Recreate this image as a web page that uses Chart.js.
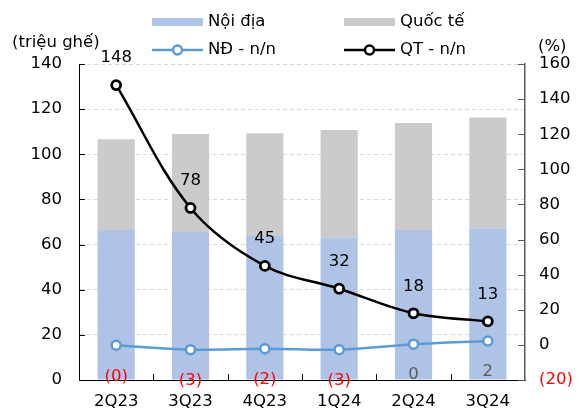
<!DOCTYPE html>
<html>
<head>
<meta charset="utf-8">
<script src="https://cdn.jsdelivr.net/npm/chart.js@4.4.1/dist/chart.umd.min.js"></script>
<style>
html,body{margin:0;padding:0;background:#fff;}
#wrap{position:relative;width:585px;height:419px;}
</style>
</head>
<body>
<div id="wrap"><canvas id="c" width="585" height="419"></canvas></div>
<script>
const categories = ['2Q23','3Q23','4Q23','1Q24','2Q24','3Q24'];
const domestic = [66.5, 65.6, 63.8, 63.1, 66.5, 67.1];
const international = [40.2, 43.4, 45.5, 47.7, 47.4, 49.2];
const ndYoY = [-0.2, -2.7, -2.2, -2.7, 0.4, 2.2];
const qtYoY = [148, 78, 45, 32, 18, 13.4];
const ndLabels = ['(0)','(3)','(2)','(3)','0','2'];
const qtLabels = ['148','78','45','32','18','13'];
const leftTicks = [0,20,40,60,80,100,120,140];
const rightTicks = [-20,0,20,40,60,80,100,120,140,160];

const FONT = '"DejaVu Sans", Verdana, sans-serif';
const FSIZE = 16.5;
const BLUE_BAR = '#AEC3E6';
const GRAY_BAR = '#CBCBCB';
const ND_COLOR = '#5B9BD5';

const decor = {
  id: 'decor',
  afterDatasetsDraw(chart) {
    const ctx = chart.ctx;
    const x = chart.scales.x, y = chart.scales.y, y1 = chart.scales.y1;
    const area = chart.chartArea;
    ctx.save();
    // inside tick marks
    ctx.lineWidth = 1;
    ctx.strokeStyle = '#000';
    leftTicks.forEach(v => {
      const py = Math.round(y.getPixelForValue(v)) + 0.5;
      ctx.beginPath(); ctx.moveTo(area.left, py); ctx.lineTo(area.left + 6, py); ctx.stroke();
    });
    ctx.strokeStyle = '#595959';
    rightTicks.forEach(v => {
      const py = Math.round(y1.getPixelForValue(v)) + 0.5;
      ctx.beginPath(); ctx.moveTo(area.right - 7, py); ctx.lineTo(area.right, py); ctx.stroke();
    });
    ctx.strokeStyle = '#000';
    for (let i = 1; i < categories.length; i++) {
      const px = Math.round((x.getPixelForValue(i - 1) + x.getPixelForValue(i)) / 2) + 0.5;
      ctx.beginPath(); ctx.moveTo(px, area.bottom); ctx.lineTo(px, area.bottom - 6); ctx.stroke();
    }
    // data labels
    ctx.font = FSIZE + 'px ' + FONT;
    ctx.textAlign = 'center';
    ctx.textBaseline = 'middle';
    const qtMeta = chart.getDatasetMeta(1);
    qtMeta.data.forEach((pt, i) => {
      ctx.fillStyle = '#000';
      ctx.fillText(qtLabels[i], pt.x, pt.y - 27);
    });
    const ndMeta = chart.getDatasetMeta(0);
    ndMeta.data.forEach((pt, i) => {
      ctx.fillStyle = ndYoY[i] < 0 ? '#FF0000' : '#595959';
      ctx.fillText(ndLabels[i], pt.x, pt.y + 31);
    });
    // axis titles
    ctx.fillStyle = '#000';
    ctx.textAlign = 'left';
    ctx.fillText('(triệu ghế)', 12, 43);
    ctx.fillText('(%)', 538, 47);
    // legend
    const ds = chart.data.datasets;
    const items = [
      {d: ds[2], x: 152, y: 22, type: 'box'},
      {d: ds[3], x: 344, y: 22, type: 'box'},
      {d: ds[0], x: 152, y: 50, type: 'line'},
      {d: ds[1], x: 344, y: 50, type: 'line'}
    ];
    items.forEach(it => {
      if (it.type === 'box') {
        ctx.fillStyle = it.d.backgroundColor;
        ctx.fillRect(it.x, it.y - 4, 51, 8);
      } else {
        ctx.strokeStyle = it.d.borderColor;
        ctx.lineWidth = 2.5;
        ctx.beginPath(); ctx.moveTo(it.x, it.y); ctx.lineTo(it.x + 51, it.y); ctx.stroke();
        ctx.fillStyle = '#fff';
        ctx.beginPath(); ctx.arc(it.x + 25.5, it.y, 4.5, 0, Math.PI * 2); ctx.fill(); ctx.stroke();
      }
      ctx.fillStyle = '#000';
      ctx.fillText(it.d.label, it.x + 56, it.y);
    });
    ctx.restore();
  }
};

new Chart(document.getElementById('c'), {
  data: {
    labels: categories,
    datasets: [
      {type: 'line', label: 'NĐ - n/n', data: ndYoY, yAxisID: 'y1', order: 0,
       borderColor: ND_COLOR, borderWidth: 2.5, tension: 0.35,
       pointRadius: 4.5, pointBorderWidth: 2.5, pointBackgroundColor: '#fff', pointBorderColor: ND_COLOR},
      {type: 'line', label: 'QT - n/n', data: qtYoY, yAxisID: 'y1', order: 0,
       borderColor: '#000', borderWidth: 2.5, tension: 0.35,
       pointRadius: 4.5, pointBorderWidth: 2.8, pointBackgroundColor: '#fff', pointBorderColor: '#000'},
      {type: 'bar', label: 'Nội địa', data: domestic, yAxisID: 'y', order: 1,
       backgroundColor: BLUE_BAR, barPercentage: 0.5, categoryPercentage: 1},
      {type: 'bar', label: 'Quốc tế', data: international, yAxisID: 'y', order: 1,
       backgroundColor: GRAY_BAR, barPercentage: 0.5, categoryPercentage: 1}
    ]
  },
  options: {
    responsive: false,
    animation: false,
    events: [],
    layout: {padding: {top: 64, left: 0, right: 0, bottom: 0}},
    plugins: {legend: {display: false}, tooltip: {enabled: false}},
    scales: {
      x: {
        stacked: true,
        grid: {display: false, drawTicks: false},
        border: {display: true, color: '#000', width: 1},
        ticks: {color: '#000', font: {family: FONT, size: FSIZE}, padding: 12},
        afterFit(s) { s.height = 39; }
      },
      y: {
        position: 'left', stacked: true, min: 0, max: 140,
        afterBuildTicks(s) { s.ticks = leftTicks.map(v => ({value: v})); },
        grid: {color: c => c.tick.value === 0 ? 'rgba(0,0,0,0)' : '#D9D9D9', lineWidth: 1, drawTicks: false},
        border: {display: true, color: '#000', width: 1, dash: [4, 3]},
        ticks: {color: '#000', font: {family: FONT, size: FSIZE}, padding: 17},
        afterFit(s) { s.width = 79; }
      },
      y1: {
        position: 'right', min: -20, max: 160,
        afterBuildTicks(s) { s.ticks = rightTicks.map(v => ({value: v})); },
        grid: {display: false, drawOnChartArea: false, drawTicks: false},
        border: {display: true, color: '#595959', width: 1.5},
        ticks: {
          font: {family: FONT, size: FSIZE}, padding: 14,
          color: c => c.tick.value < 0 ? '#FF0000' : '#000',
          callback: v => v < 0 ? '(' + Math.abs(v) + ')' : String(v)
        },
        afterFit(s) { s.width = 60; }
      }
    }
  },
  plugins: [decor]
});
</script>
</body>
</html>
